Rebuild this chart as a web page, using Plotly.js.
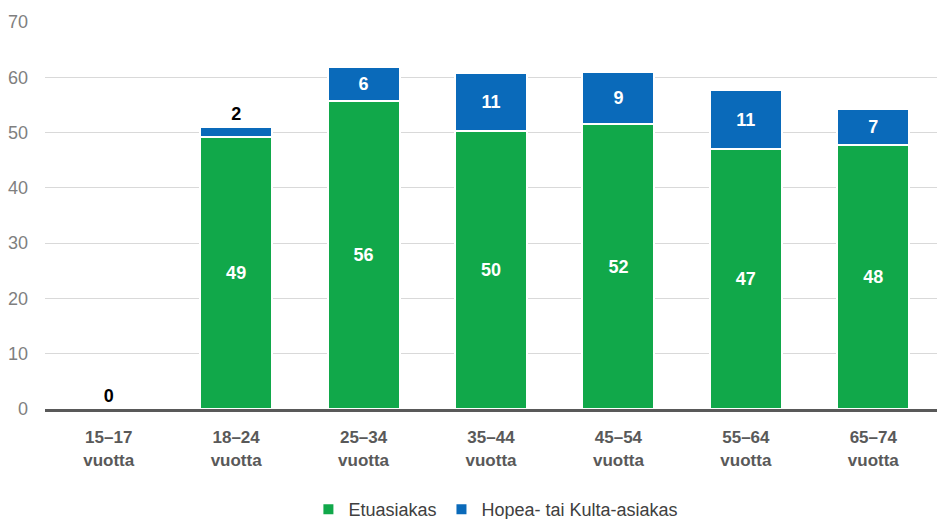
<!DOCTYPE html>
<html>
<head>
<meta charset="utf-8">
<script src="https://cdn.plot.ly/plotly-3.0.1.min.js"></script>
<style>html,body{margin:0;padding:0;background:#fff;}#chart{width:941px;height:519px;}</style>
</head>
<body>
<div id="chart"></div>
<script>
const categories = ["15–17<br>vuotta", "18–24<br>vuotta", "25–34<br>vuotta", "35–44<br>vuotta", "45–54<br>vuotta", "55–64<br>vuotta", "65–74<br>vuotta"];
const etuasiakas = [0, 49.2, 55.7, 50.3, 51.5, 47.0, 47.7];
const hopeaKulta = [0, 1.8, 6.2, 10.5, 9.4, 10.7, 6.5];
const seriesNames = ["Etuasiakas", "Hopea- tai Kulta-asiakas"];
const yTicks = [0, 10, 20, 30, 40, 50, 60, 70];

const green = "#11a84a";
const blue = "#0a6aba";
const smallLimit = 3;

const greenText = etuasiakas.map(v => v > 0 ? String(Math.round(v)) : "");
const blueText = hopeaKulta.map(v => String(Math.round(v)));
const bluePos = hopeaKulta.map(v => v < smallLimit ? "outside" : "inside");
const blueColor = hopeaKulta.map(v => v < smallLimit ? "#000000" : "#ffffff");

const font = "Liberation Sans, Arial, sans-serif";

const traces = [
  {
    type: "bar", name: seriesNames[0], x: categories, y: etuasiakas,
    marker: {color: green, line: {color: "#ffffff", width: 2}},
    text: greenText, textposition: "inside", insidetextanchor: "middle",
    textfont: {color: "#ffffff", size: 18, family: font, weight: "bold"},
    hoverinfo: "skip"
  },
  {
    type: "bar", name: seriesNames[1], x: categories, y: hopeaKulta,
    marker: {color: blue, line: {color: "#ffffff", width: 2}},
    text: blueText, textposition: bluePos, insidetextanchor: "middle",
    textfont: {color: blueColor, size: 18, family: font, weight: "bold"},
    cliponaxis: false, constraintext: "none",
    hoverinfo: "skip"
  }
];

const layout = {
  width: 941, height: 519,
  margin: {l: 45, r: 4, t: 22, b: 110, autoexpand: false},
  barmode: "stack", bargap: 0.435,
  paper_bgcolor: "#ffffff", plot_bgcolor: "#ffffff",
  font: {family: font, size: 17, color: "#7f7f7f"},
  showlegend: true,
  legend: {orientation: "h", x: 0.527, xanchor: "center", xref: "container",
           y: 0.018, yanchor: "middle", yref: "container",
           font: {size: 18, color: "#404040", family: font}, itemwidth: 30, traceorder: "normal"},
  xaxis: {
    type: "category", showgrid: false, showline: true, linecolor: "#595959", linewidth: 3,
    ticks: "", ticklabelstandoff: 11,
    tickfont: {size: 17, color: "#595959", family: font, weight: "bold"},
    fixedrange: true
  },
  yaxis: {
    range: [0, 70], tickvals: yTicks, ticktext: yTicks.map(String),
    showgrid: true, gridcolor: "#d9d9d9", gridwidth: 1, zeroline: false,
    showline: false, ticks: "", ticklabelstandoff: 16,
    tickfont: {size: 18, color: "#7f7f7f", family: font}, fixedrange: true
  }
};

Plotly.newPlot("chart", traces, layout, {displayModeBar: false, staticPlot: true});
</script>
</body>
</html>
